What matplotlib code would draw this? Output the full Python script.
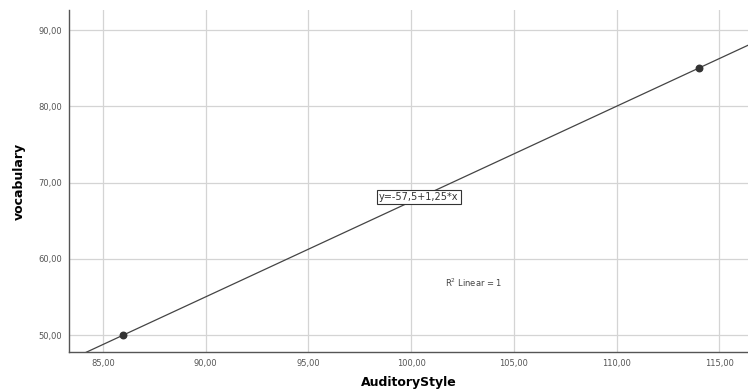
import matplotlib
matplotlib.use("Agg")
import matplotlib.pyplot as plt
from matplotlib.ticker import FuncFormatter

auditory = [86.0, 114.0]
vocabulary = [50.0, 85.0]
intercept = -57.5
slope = 1.25
x_ticks = [85, 90, 95, 100, 105, 110, 115]
y_ticks = [50, 60, 70, 80, 90]

fig = plt.figure(figsize=(7.48, 3.92), dpi=100)
ax = fig.add_axes([0.0922, 0.102, 0.9078, 0.872])

xlim = (83.35, 116.4)
ylim = (47.77, 92.6)
ax.set_xlim(*xlim)
ax.set_ylim(*ylim)

ax.set_xticks(x_ticks)
ax.set_yticks(y_ticks)
fmt = FuncFormatter(lambda v, p: f"{v:.2f}".replace(".", ","))
ax.xaxis.set_major_formatter(fmt)
ax.yaxis.set_major_formatter(fmt)
ax.tick_params(axis="both", length=0, labelsize=6, colors="#555555", pad=5)

ax.grid(True, color="#d4d4d4", linewidth=0.9)
ax.set_axisbelow(True)
for s in ["top", "right"]:
    ax.spines[s].set_visible(False)
for s in ["left", "bottom"]:
    ax.spines[s].set_color("#555555")
    ax.spines[s].set_linewidth(1.0)

xs = [xlim[0], xlim[1]]
ax.plot(xs, [intercept + slope * v for v in xs], color="#444444", linewidth=0.9)
ax.scatter(auditory, vocabulary, s=22, color="#333333", zorder=3)

ax.text(100.38, 68.1, "y=-57,5+1,25*x", fontsize=7, ha="center", va="center",
        color="#333333",
        bbox=dict(boxstyle="square,pad=0.2", facecolor="white", edgecolor="#333333", linewidth=0.8))
ax.text(103.05, 56.8, "R$^2$ Linear = 1", fontsize=6, ha="center", va="center", color="#444444")

ax.set_xlabel("AuditoryStyle", fontsize=9, fontweight="bold", labelpad=6)
ax.set_ylabel("vocabulary", fontsize=9, fontweight="bold", labelpad=9)

fig.savefig("out.png", dpi=100)
